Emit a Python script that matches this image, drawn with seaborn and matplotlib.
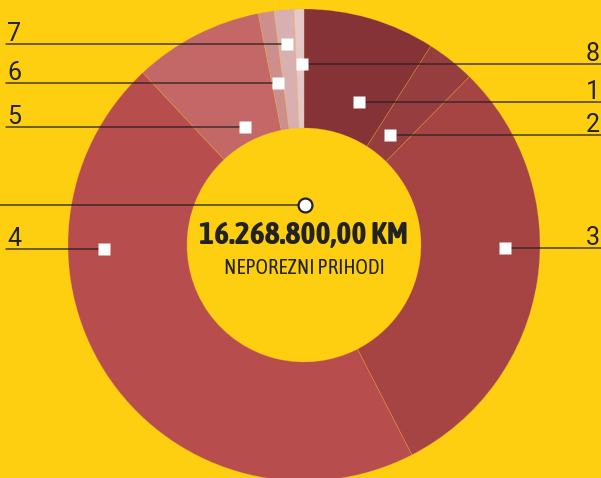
import matplotlib
matplotlib.use("Agg")
import matplotlib.pyplot as plt
from matplotlib import font_manager
import matplotlib.patheffects as pe
import seaborn as sns

# Share of each item, clockwise from 12 o'clock
segments = ["1", "2", "3", "4", "5", "6", "7", "8"]
shares = [9.03, 3.33, 30.08, 45.58, 8.86, 1.08, 1.36, 0.67]
colors = ["#853336", "#963d3f", "#a64443", "#b84d4d",
          "#c36867", "#cd8e8e", "#d9b0b1", "#e5c8ca"]

total_text = "16.268.800,00 KM"
subtitle = "NEPOREZNI PRIHODI"

yellow = "#fdcf10"
sns.set_theme(style="white", rc={"figure.facecolor": yellow, "axes.facecolor": yellow})
plt.rcParams["font.family"] = ["Roboto", "DejaVu Sans"]

# look for a narrow face for the centre text (prefer one that has a bold weight)
fonts = font_manager.fontManager.ttflist
narrow = [f for f in fonts if "Condensed" in f.name or "Narrow" in f.name]
narrow_bold = sorted({f.name for f in narrow if f.weight in ("bold", 700, 600, "semibold", "demibold")})
narrow_any = sorted({f.name for f in narrow})
if narrow_bold:
    center_font, fake_bold = [narrow_bold[0], "DejaVu Sans"], False
elif narrow_any:
    center_font, fake_bold = [narrow_any[0], "DejaVu Sans"], True
else:
    center_font, fake_bold = ["Roboto", "DejaVu Sans"], False
big_size, small_size = (23, 15) if narrow_any else (18, 13)

fig = plt.figure(figsize=(6.01, 4.78), dpi=100)
ax = fig.add_axes([0, 0, 1, 1])

# donut, drawn in pixel-like coordinates (y axis inverted)
cx, cy, r_out, r_in = 304, 245, 236, 117
ax.pie(shares, colors=colors, startangle=-90, counterclock=True,
       center=(cx, cy), radius=r_out,
       wedgeprops=dict(width=r_out - r_in, edgecolor=(0.99, 0.72, 0.2, 0.35), linewidth=0.5))

ax.set_xlim(0, 601)
ax.set_ylim(478, 0)
ax.set_aspect("equal")
ax.axis("off")

# leader lines: (label, side, line y, marker x)
leaders = [
    ("7", "left", 44, 287),
    ("6", "left", 83, 278),
    ("5", "left", 127, 245),
    ("4", "left", 249, 104),
    ("8", "right", 64, 302),
    ("1", "right", 102, 359),
    ("2", "right", 135, 390),
    ("3", "right", 248, 505),
]
line_col = "#2b2222"
for lab, side, y, mx in leaders:
    if side == "left":
        ax.plot([6, mx], [y, y], color=line_col, lw=1.1, alpha=0.85, zorder=3)
        ax.text(7, y - 3, lab, ha="left", va="baseline", fontsize=18, color="#222222", zorder=5)
    else:
        ax.plot([mx, 601], [y, y], color=line_col, lw=1.1, alpha=0.85, zorder=3)
        ax.text(600, y - 3, lab, ha="right", va="baseline", fontsize=18, color="#222222", zorder=5)
    ax.plot(mx, y, marker="s", ms=8.6, mfc="white", mec="none", zorder=4)

# leader for the total (label cut off at the left edge)
ax.plot([0, 305], [205, 205], color=line_col, lw=1.1, alpha=0.85, zorder=3)
ax.plot(305, 205, marker="o", ms=10, mfc="white", mec="#222222", mew=1.6, zorder=4)

effects = [pe.withStroke(linewidth=1.6, foreground="#222222")] if fake_bold else []
ax.text(cx, 235, total_text, ha="center", va="center", fontsize=big_size, fontweight="bold",
        color="#222222", family=center_font, zorder=5, path_effects=effects)
ax.text(cx, 268, subtitle, ha="center", va="center", fontsize=small_size,
        color="#222222", family=center_font, zorder=5)

fig.savefig("out.png", dpi=100, facecolor=yellow)
